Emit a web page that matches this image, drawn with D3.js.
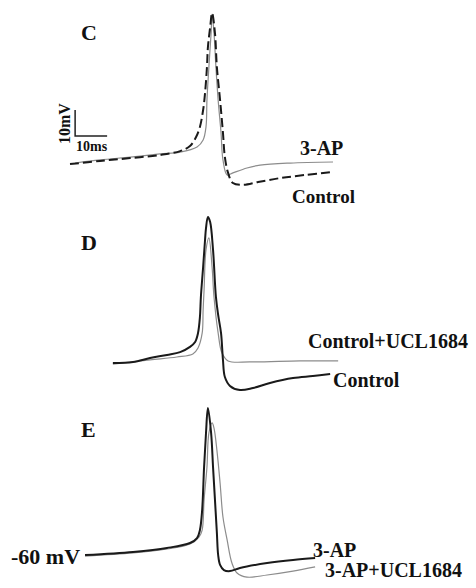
<!DOCTYPE html>
<html>
<head>
<meta charset="utf-8">
<script src="https://cdn.jsdelivr.net/npm/d3@7"></script>
<style>
  body { margin: 0; background: #fff; }
  text { font-family: "Liberation Serif", "Times New Roman", serif; font-weight: bold; fill: #111; }
</style>
</head>
<body>
<svg id="chart" width="476" height="588"></svg>
<script>
// traces: [time (ms), membrane potential (mV)]
const cControl = [[0,-60.8],[9.4,-59.6],[18.8,-58.5],[28.1,-57.3],[34.4,-55.8],[37.5,-53.8],[39.4,-50.4],[40.6,-46.5],[41.6,-40],[42.2,-33.5],[42.8,-23.5],[43.1,-15.8],[43.8,-8.1],[44.4,-2.7],[45.3,-10.4],[45.9,-23.5],[46.9,-36.2],[47.8,-48.8],[48.4,-58.1],[49.4,-64.2],[50.9,-68.1],[54.1,-68.8],[58.8,-67.7],[65.6,-66.2],[73.4,-65],[82.2,-63.8]];
const c3AP = [[1.6,-60.4],[9.4,-59.2],[18.8,-58.1],[28.1,-56.9],[34.4,-56.2],[39.7,-54.2],[41.6,-51.5],[42.5,-46.5],[42.8,-36.2],[43.4,-23.5],[44.1,-10.4],[44.4,-3.1],[45,-10.4],[45.6,-23.5],[46.3,-36.2],[47.2,-48.8],[47.8,-59.2],[49.1,-65],[50.9,-64.2],[55.3,-62.3],[59.4,-61.2],[68.8,-60.4],[82.2,-60]];

const dControl = [[13.4,-60],[19.7,-59.6],[25,-58.1],[30.3,-56.9],[34.4,-55.8],[37.5,-53.8],[39.1,-51.9],[40,-48.5],[40.6,-42.3],[40.9,-34.6],[41.6,-23.1],[42.2,-12.7],[42.5,-8.1],[43.1,-3.8],[43.8,-5.8],[44.7,-16.5],[45.6,-34.6],[46.3,-41.5],[47.2,-48.5],[47.8,-58.8],[48.4,-65.4],[50,-68.8],[53.1,-70.4],[57.2,-69.6],[62.5,-67.7],[69.7,-65.8],[75.9,-65],[81.3,-64.2]];
const dUCL = [[13.4,-60.4],[25,-58.8],[33.4,-57.7],[38.4,-56.5],[40,-54.2],[41.3,-48.5],[41.6,-39.6],[41.9,-31.9],[42.5,-16.5],[43.4,-11.9],[44.4,-23.1],[45,-34.6],[46.3,-48.5],[47.5,-56.2],[49.4,-59.2],[56.3,-59.6],[71.9,-59.2],[83.8,-59.2]];

const e3AP = [[4.7,-60],[19.7,-58.8],[30.3,-57.3],[37.5,-55.4],[39.7,-53.5],[40.6,-50.4],[41.3,-42.7],[41.9,-26.2],[42.5,-13.1],[43.1,-3.5],[44.1,-13.1],[44.7,-26.2],[45.3,-38.8],[45.9,-51.5],[46.3,-60],[46.9,-63.8],[48.1,-65.8],[50,-66.2],[53.1,-65],[61.6,-63.1],[69.7,-61.9],[76.6,-61.2]];
const e3APUCL = [[4.7,-60.4],[19.7,-59.2],[30.3,-57.7],[37.5,-55.8],[40.3,-53.1],[41.3,-50.4],[41.9,-38.8],[42.8,-26.2],[43.4,-13.1],[44.4,-9.2],[45,-11.2],[45.9,-19.6],[46.9,-32.3],[47.8,-45.4],[49.1,-54.2],[50.6,-63.1],[52.2,-66.9],[55.3,-68.5],[61.6,-67.7],[69.7,-66.2],[76.6,-64.6]];

// panel letters and trace labels
const panelNames = ["C", "D", "E"];
const traceLabels = [
  ["3-AP", "Control"],
  ["Control+UCL1684", "Control"],
  ["3-AP", "3-AP+UCL1684"]
];
const scaleBar = { ms: 10, mV: 10 };

const svg = d3.select("#chart");

// 10 ms = 32 px, 10 mV = 26 px
const x = d3.scaleLinear().domain([0, 10]).range([70, 102]);
const panelBase = [162, 363, 555];
const yScales = panelBase.map(b => d3.scaleLinear().domain([-60, -50]).range([b, b - 26]));

function trace(data, y, stroke, width, dash) {
  svg.append("path")
    .datum(data)
    .attr("d", d3.line().x(d => x(d[0])).y(d => y(d[1])).curve(d3.curveCatmullRom.alpha(0.5)))
    .attr("fill", "none")
    .attr("stroke", stroke)
    .attr("stroke-width", width)
    .attr("stroke-linejoin", "round")
    .attr("stroke-dasharray", dash || null);
}

// panel C
trace(c3AP, yScales[0], "#8c8c8c", 1.2);
trace(cControl, yScales[0], "#1a1a1a", 2, "9,4");

// panel D
trace(dUCL, yScales[1], "#8c8c8c", 1.2);
trace(dControl, yScales[1], "#1a1a1a", 2);

// panel E
trace(e3APUCL, yScales[2], "#8c8c8c", 1.2);
trace(e3AP, yScales[2], "#1a1a1a", 2);

// scale bar in panel C
const sbT = 1.6, sbV = -50;
svg.append("path")
  .attr("d", "M" + x(sbT) + "," + yScales[0](sbV + scaleBar.mV) +
             "V" + yScales[0](sbV) + "H" + x(sbT + scaleBar.ms))
  .attr("fill", "none").attr("stroke", "#222").attr("stroke-width", 1.5);
svg.append("text")
  .attr("x", x(sbT) + 1).attr("y", yScales[0](sbV) + 15)
  .attr("font-size", 14).text(scaleBar.ms + "ms");
svg.append("text")
  .attr("transform", "translate(" + (x(sbT) - 5) + "," + (yScales[0](sbV) + 8) + ") rotate(-90)")
  .attr("font-size", 16).text(scaleBar.mV + "mV");

// panel letters
svg.selectAll("text.panel")
  .data(panelNames)
  .enter().append("text")
  .attr("class", "panel")
  .attr("x", 81)
  .attr("y", (d, i) => [40, 250, 437][i])
  .attr("font-size", 22)
  .text(d => d);

// trace labels
const labelPos = [
  [[300, 155, 20], [292, 203, 19]],
  [[308, 348, 20], [333, 387, 20]],
  [[313, 557, 20], [325, 577, 20]]
];
traceLabels.forEach((pair, i) => {
  pair.forEach((lab, j) => {
    const p = labelPos[i][j];
    svg.append("text").attr("x", p[0]).attr("y", p[1]).attr("font-size", p[2]).text(lab);
  });
});

svg.append("text")
  .attr("x", 11).attr("y", 564)
  .attr("font-size", 22)
  .text("-60 mV");
</script>
</body>
</html>
